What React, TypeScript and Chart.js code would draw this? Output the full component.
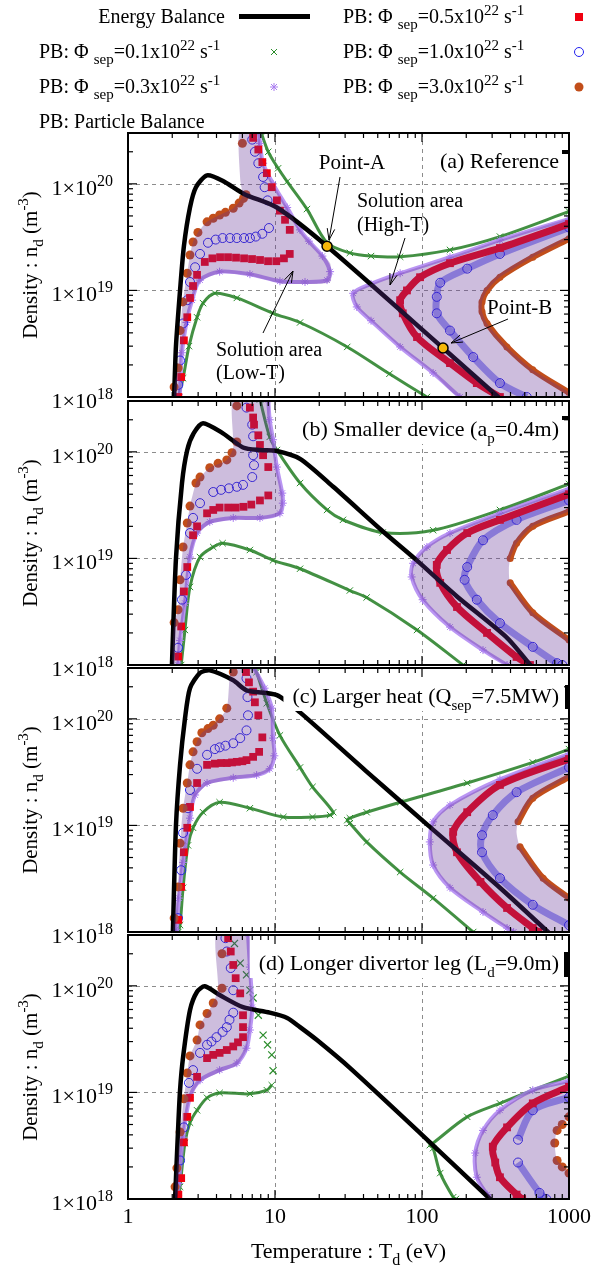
import React, { useEffect, useRef } from 'react';
import { Chart, registerables } from 'chart.js';

Chart.register(...registerables);

// ---------------- layout (pixels) ----------------
const W = 608;
const H = 1279;
const PLOT_LEFT = 128;
const PLOT_RIGHT = 569;
const PANEL_TOPS = [133, 401, 668, 935];
const PANEL_BOTTOMS = [397, 665, 932, 1199];

// ---------------- axes ----------------
const T_MIN = 1;
const T_MAX = 1000;
const N_MIN = 1e18;
const N_MAX = 3e20;
const X_TICK_VALUES = [1, 10, 100, 1000];
const X_TICK_LABELS = ['1', '10', '100', '1000'];
const Y_TICK_EXPONENTS = [18, 19, 20];
const PHI_VALUES = ['0.1', '0.3', '0.5', '1.0', '3.0'];

// ---------------- colours ----------------
const C_G = '#2a8c2a';
const C_G_BAND = 'rgba(34,125,34,0.85)';
const C_P = '#a97cf0';
const C_P_BAND = 'rgba(169,124,240,0.8)';
const C_R = '#f00010';
const C_B = '#2222ee';
const C_B_BAND = 'rgba(34,34,238,0.45)';
const C_O = '#c24e1a';
const C_FILL = 'rgba(100,50,150,0.32)';
const C_PT = '#f5b70a';

// ================= Panel (a) Reference =================
const A_EB = [[2.06,1e18],[2.12,3e18],[2.26,1e19],[2.4,2.6e19],[2.64,6e19],[2.9,9.3e19],[3.45,1.2e20],[4.4,1.07e20],[6.2,8.0e19],[10.3,6.0e19],[22.6,2.6e19],[139,2.88e18],[330,1e18]];
const A_G_LOW = [[2.2,1e18],[2.37,1.5e18],[2.6,3e18],[2.95,5.6e18],[3.24,7.6e18],[3.9,9.4e18],[5.5,8.5e18],[9.7,6.1e18],[14.8,5e18],[31,2.95e18],[60,1.65e18],[108,1e18]];
const A_G_HIGH = [[8.0,3.1e20],[9.0,2.0e20],[10.5,1.4e20],[12.1,1.05e20],[16.5,5.8e19],[22.6,2.8e19],[32.3,2.25e19],[45,2.1e19],[71,2.07e19],[155,2.4e19],[339,3.2e19],[1000,5.5e19]];
const A_P_LOW = [[2.25,1e18],[2.33,2.6e18],[2.5,5e18],[2.73,8.1e18],[3.09,1.25e19],[4.2,1.5e19],[6.75,1.42e19],[10.8,1.22e19],[16,1.2e19],[22.6,1.25e19],[23.7,1.5e19],[21,2.1e19],[17,2.9e19],[14.8,3.7e19],[12.1,6e19],[9.7,1.0e20],[8.3,1.56e20],[7.9,2.4e20],[7.8,3.1e20]];
const A_P_HIGH = [[1000,4.7e19],[339,2.97e19],[155,2.05e19],[71,1.45e19],[45,1.15e19],[34,9.4e18],[36,7e18],[45,5.2e18],[71,2.95e18],[119,1.68e18],[181,1e18]];
const A_R_LOW = [[2.2,1e18],[2.3,1.54e18],[2.4,3.4e18],[2.53,5.6e18],[2.64,8.5e18],[2.77,1.1e19],[2.95,1.4e19],[3.33,1.85e19],[3.75,2.0e19],[4.23,2.05e19],[4.79,2.05e19],[5.43,2.03e19],[6.16,2.0e19],[6.98,1.97e19],[7.91,1.93e19],[8.97,1.88e19],[10.2,1.88e19],[11.5,2.0e19],[12.6,2.2e19]];
const A_R_UP = [[12.6,3.7e19],[11.7,4.6e19],[10.8,5.6e19],[10.3,7.0e19],[9.5,9.3e19],[8.8,1.26e20],[8.2,1.6e20],[7.7,2.1e20],[7.1,2.7e20]];
const A_R_HIGH = [[1000,4.2e19],[339,2.5e19],[155,1.8e19],[97,1.33e19],[79,1.0e19],[71,8.1e18],[74,6.1e18],[92.5,3.65e18],[155,2.08e18],[236,1.35e18],[339,1e18]];
const A_B_LOW = [[2.2,1.3e18],[2.26,2.2e18],[2.37,4.9e18],[2.53,8.1e18],[2.64,1.2e19],[2.86,1.65e19],[3.09,2.2e19],[3.5,2.8e19],[3.95,3.0e19],[4.4,3.1e19],[4.94,3.1e19],[5.5,3.1e19],[6.16,3.1e19],[6.75,3.1e19],[7.4,3.2e19],[8.2,3.4e19],[9.1,3.85e19]];
const A_B_UP = [[8.9,7.0e19],[8.5,9.3e19],[8.3,1.16e20],[7.7,1.56e20],[7.3,2.0e20],[7.0,2.6e20]];
const A_B_HIGH = [[1000,3.9e19],[339,2.2e19],[203,1.6e19],[133,1.18e19],[126,8.7e18],[126,6.1e18],[155,4.2e18],[223,2.37e18],[339,1.35e18],[516,1e18]];
const A_O_LOW = [[2.06,1.24e18],[2.19,1.87e18],[2.26,4.2e18],[2.36,7.8e18],[2.53,1.45e19],[2.64,2.15e19],[2.77,2.85e19],[2.99,3.5e19],[3.45,4.4e19],[3.8,4.75e19],[4.2,5.1e19],[4.6,5.4e19],[5.2,5.9e19],[5.7,6.6e19],[6.1,7.3e19],[6.35,7.9e19]];
const A_O_UP = [[6.0,2.4e20]];
const A_O_HIGH = [[1000,3.05e19],[567,2.05e19],[339,1.33e19],[277,1e19],[256,7.8e18],[256,6.3e18],[277,4.9e18],[378,2.95e18],[567,1.8e18],[1000,1.1e18]];
const A_FILL_LOW = [[2.06,1e18],[2.06,1.24e18],[2.19,1.87e18],[2.26,4.2e18],[2.36,7.8e18],[2.53,1.45e19],[2.64,2.15e19],[2.77,2.85e19],[2.99,3.5e19],[3.45,4.4e19],[4.2,5.1e19],[5.2,5.9e19],[6.0,7.6e19],[5.8,1.1e20],[5.75,3.2e20],[7.9,3.2e20],[7.9,2.4e20],[8.3,1.56e20],[9.7,1.0e20],[12.1,6e19],[14.8,3.7e19],[19,2.5e19],[23.7,1.8e19],[23.7,1.2e19],[16,1.15e19],[10.8,1.17e19],[6.75,1.37e19],[4.2,1.45e19],[3.09,1.2e19],[2.73,7.8e18],[2.5,4.8e18],[2.33,2.5e18],[2.25,1e18]];
const A_FILL_HIGH = [[1000,4.75e19],[339,2.97e19],[155,2.05e19],[71,1.45e19],[45,1.15e19],[34,9.4e18],[36,7e18],[45,5.2e18],[71,2.95e18],[119,1.68e18],[181,1e18],[1000,1e18],[1000,1.1e18],[567,1.8e18],[378,2.95e18],[277,4.9e18],[256,6.3e18],[256,7.8e18],[277,1e19],[339,1.33e19],[567,2.05e19],[1000,3.05e19]];
const A_MARKS = [[22.6,2.6e19],[139,2.88e18]];

// ================= Panel (b) Smaller device =================
const B_EB = [[1.99,1e18],[2.12,1e19],[2.33,5.1e19],[2.53,1.04e20],[2.8,1.5e20],[3.24,1.86e20],[4.4,1.5e20],[6.06,1.1e20],[7.9,1.04e20],[10.3,1.02e20],[14.8,8.6e19],[24.9,4.7e19],[54,1.8e19],[89,1.0e19],[173,4.4e18],[379,1.8e18],[545,1e18]];
const B_G_LOW = [[2.3,1e18],[2.44,2.13e18],[2.64,5.4e18],[3.09,1.03e19],[3.8,1.28e19],[4.4,1.39e19],[6.75,1.2e19],[9.7,9.6e18],[14.8,8.0e18],[32.3,5.0e18],[42,4.3e18],[92.5,2.13e18],[190,1e18]];
const B_G_HIGH = [[7.9,3.1e20],[9.2,1.38e20],[10.3,1.04e20],[14.8,5.1e19],[22.6,2.85e19],[29,2.3e19],[54,1.75e19],[119,1.84e19],[339,2.85e19],[1000,5.0e19]];
const B_P_LOW = [[2.2,1e18],[2.26,1.7e18],[2.44,3.8e18],[2.64,1.03e19],[2.95,1.73e19],[3.6,2.2e19],[5.2,2.4e19],[7.9,2.4e19],[10.8,2.65e19],[11.3,3.3e19],[11.2,4.1e19],[10.3,7.2e19],[9.7,1.3e20],[9.2,2.0e20],[9.0,3.1e20]];
const B_P_HIGH = [[1000,4.5e19],[339,2.65e19],[155,1.73e19],[108,1.28e19],[87,9.0e18],[85,6.7e18],[101,4.1e18],[155,2.27e18],[260,1.38e18],[379,1e18]];
const B_R_LOW = [[2.2,1.2e18],[2.3,2.3e18],[2.4,4.9e18],[2.53,8.3e18],[2.77,1.65e19],[2.95,2.0e19],[3.45,2.65e19],[3.8,2.85e19],[4.2,3.0e19],[4.8,3.0e19],[5.4,3.0e19],[6.1,3.05e19],[6.9,3.2e19],[7.9,3.5e19],[9.0,3.9e19]];
const B_R_UP = [[9.0,7.2e19],[8.3,9.3e19],[7.9,1.16e20],[7.7,1.43e20],[7.2,1.8e20],[7.1,2.1e20],[6.75,2.6e20]];
const B_R_HIGH = [[1000,4.0e19],[339,2.3e19],[203,1.73e19],[148,1.2e19],[126,8.7e18],[133,5.9e18],[173,3.5e18],[277,2e18],[440,1.19e18],[543,1e18]];
const B_B_LOW = [[2.19,1.45e18],[2.33,4.1e18],[2.48,7e18],[2.64,1.73e19],[2.77,2.4e19],[3.09,3.3e19],[3.8,4.2e19],[4.3,4.4e19],[4.86,4.55e19],[5.5,4.7e19],[6.06,4.9e19],[7.0,5.8e19]];
const B_B_UP = [[7.2,7.5e19],[7.1,9.3e19],[7.1,1.4e20],[7.0,1.8e20],[6.4,2.6e20]];
const B_B_HIGH = [[1000,3.5e19],[440,2.3e19],[260,1.48e19],[203,8.3e18],[195,6.3e18],[236,4.1e18],[339,2.47e18],[567,1.48e18],[830,1.04e18],[900,1e18]];
const B_O_LOW = [[2.06,2.5e18],[2.19,3.3e18],[2.26,6.3e18],[2.37,1.28e19],[2.53,2.15e19],[2.64,3.1e19],[2.9,5.1e19],[3.09,5.8e19],[3.6,7.1e19],[4.1,7.8e19],[4.7,8.4e19],[5.1,9.8e19],[5.5,1.24e20]];
const B_O_UP = [[5.5,2.7e20]];
const B_O_HIGH = [[1000,2.75e19],[567,2.0e19],[440,1.39e19],[398,1.0e19]];
const B_O_HIGH2 = [[398,5.9e18],[567,3.1e18],[1000,1.72e18]];
const B_FILL_LOW = [[2.0,1e18],[2.06,2.5e18],[2.19,3.3e18],[2.26,6.3e18],[2.37,1.28e19],[2.53,2.15e19],[2.64,3.1e19],[2.9,5.1e19],[3.09,5.8e19],[3.6,7.1e19],[4.7,8.4e19],[5.2,1.1e20],[5.2,3.2e20],[9.0,3.2e20],[9.2,2.0e20],[9.7,1.3e20],[10.3,7.2e19],[11.2,4.1e19],[11.3,3.0e19],[10.8,2.55e19],[7.9,2.3e19],[5.2,2.3e19],[3.6,2.1e19],[2.95,1.65e19],[2.64,9.8e18],[2.44,3.6e18],[2.26,1.6e18],[2.2,1e18]];
const B_FILL_HIGH = [[1000,4.5e19],[339,2.65e19],[155,1.73e19],[108,1.28e19],[87,9.0e18],[85,6.7e18],[101,4.1e18],[155,2.27e18],[260,1.38e18],[379,1e18],[1000,1e18],[1000,1.72e18],[567,3.1e18],[398,5.9e18],[390,8e18],[398,1.0e19],[440,1.39e19],[567,2.0e19],[1000,2.75e19]];

// ================= Panel (c) Larger heat =================
const C_EB = [[2.02,1e18],[2.12,1e19],[2.26,3.7e19],[2.44,1.0e20],[2.64,1.94e20],[3.09,2.7e20],[3.6,2.85e20],[5.2,2.3e20],[6.4,1.85e20],[10.3,1.67e20],[14.8,1.15e20],[42,3.2e19],[110,1.0e19],[339,2.6e18],[720,1e18]];
const C_G_LOW = [[2.2,1e18],[2.26,1.16e18],[2.37,2.6e18],[2.56,6.5e18],[2.77,9.5e18],[3.24,1.33e19],[4.2,1.65e19],[6.75,1.45e19],[11.4,1.2e19],[18,1.2e19],[23.7,1.25e19],[24.9,1.33e19],[18,2.3e19],[14.8,3.5e19],[10.8,7e19],[8.8,1.4e20],[7.5,2.75e20],[7.3,3.1e20]];
const C_G_HIGH = [[1000,5.2e19],[567,3.9e19],[203,2.5e19],[71,1.65e19],[42,1.33e19],[32.3,1.17e19],[31,1.12e19],[32.3,1.05e19],[42,7e18],[71,3.65e18],[119,2.08e18],[223,1e18]];
const C_P_LOW = [[2.15,1e18],[2.22,2.08e18],[2.37,4.5e18],[2.64,1.17e19],[2.86,1.93e19],[3.45,2.5e19],[5.2,2.8e19],[7.5,2.97e19],[9.2,3.4e19],[9.9,4.5e19],[9.7,6.6e19],[9.5,1.26e20],[8.5,1.94e20],[7.1,3.1e20]];
const C_P_HIGH = [[1000,4.7e19],[339,2.7e19],[155,1.55e19],[119,1.08e19],[113,7e18],[119,4.25e18],[155,2.6e18],[260,1.54e18],[379,1.09e18],[420,1e18]];
const C_R_LOW = [[2.2,1.3e18],[2.3,2.65e18],[2.4,5.6e18],[2.53,9.5e18],[2.64,1.49e19],[2.95,2.5e19],[3.45,3.7e19],[3.9,3.8e19],[4.3,3.85e19],[4.7,3.85e19],[5.1,3.9e19],[5.5,3.95e19],[6.0,4.0e19],[6.4,4.1e19],[7.1,4.4e19],[7.8,4.9e19]];
const C_R_UP = [[8.2,6.7e19],[7.7,1.08e20],[7.3,1.43e20],[7.1,1.8e20],[6.65,2.2e20],[6.35,2.75e20]];
const C_R_HIGH = [[1000,4.2e19],[339,2.4e19],[203,1.33e19],[163,8.7e18],[173,5.6e18],[250,2.95e18],[379,1.68e18],[567,1.09e18],[620,1e18]];
const C_B_LOW = [[2.19,1.35e18],[2.3,3.8e18],[2.37,8.5e18],[2.56,1.45e19],[2.64,2.15e19],[2.95,3.4e19],[3.45,4.6e19],[3.9,5.2e19],[4.2,5.4e19],[4.6,5.6e19],[5.2,5.9e19],[5.8,6.6e19],[6.4,7.8e19]];
const C_B_UP = [[6.55,1.08e20],[6.5,1.6e20],[6.4,2.4e20]];
const C_B_HIGH = [[1000,3.5e19],[440,2.05e19],[303,1.25e19],[256,8.1e18],[256,5.6e18],[339,3.2e18],[567,1.8e18],[1000,1.16e18]];
const C_O_LOW = [[2.06,1.35e18],[2.19,2.65e18],[2.26,6.8e18],[2.37,1.45e19],[2.53,2.5e19],[2.64,3.7e19],[2.77,4.9e19],[2.95,6.1e19],[3.18,7.4e19],[3.5,8.1e19],[3.8,8.7e19],[4.2,1.0e20],[4.7,1.26e20],[5.2,2.75e20]];
const C_O_HIGH = [[1000,2.85e19],[567,1.8e19],[450,1.08e19]];
const C_O_HIGH2 = [[464,6.3e18],[667,3.2e18],[1000,2.08e18]];
const C_FILL_LOW = [[2.02,1e18],[2.06,1.35e18],[2.19,2.65e18],[2.26,6.8e18],[2.37,1.45e19],[2.53,2.5e19],[2.64,3.7e19],[2.77,4.9e19],[2.95,6.1e19],[3.18,7.4e19],[3.8,8.7e19],[4.7,1.26e20],[5.1,3.2e20],[7.1,3.2e20],[8.5,1.94e20],[9.5,1.26e20],[9.7,6.6e19],[9.9,4.5e19],[9.2,3.3e19],[7.5,2.9e19],[5.2,2.7e19],[3.45,2.4e19],[2.86,1.85e19],[2.64,1.12e19],[2.37,4.3e18],[2.22,2e18],[2.15,1e18]];
const C_FILL_HIGH = [[1000,4.7e19],[339,2.7e19],[155,1.55e19],[119,1.08e19],[113,7e18],[119,4.25e18],[155,2.6e18],[260,1.54e18],[379,1.09e18],[420,1e18],[1000,1e18],[1000,2.08e18],[667,3.2e18],[464,6.3e18],[440,8.5e18],[450,1.08e19],[567,1.8e19],[1000,2.85e19]];

// ================= Panel (d) Longer divertor leg =================
const D_EB = [[2.09,1e18],[2.19,4.4e18],[2.26,1.05e19],[2.37,2.15e19],[2.64,5.9e19],[2.95,8.8e19],[3.33,9.9e19],[4.2,8.2e19],[6.06,6.3e19],[9.2,5.6e19],[12.1,5.0e19],[14.8,4.1e19],[19.3,3.1e19],[32.3,1.7e19],[100,4.0e18],[290,1e18]];
const D_G_LOW = [[2.2,1e18],[2.26,1.3e18],[2.44,3.35e18],[2.64,5.2e18],[2.95,6.8e18],[3.45,8.9e18],[4.2,9.9e18],[6.75,9.7e18],[8.8,1.05e19],[9.5,1.17e19]];
const D_G_UP = [[9.7,1.6e19],[9.5,2.25e19],[8.9,2.8e19],[8.3,3.45e19],[7.7,5.3e19],[7.1,7.7e19],[6.75,9.1e19],[6.4,1.27e20],[5.8,1.63e20],[5.3,2.5e20]];
const D_G_HIGH = [[1000,1.42e19],[567,1.05e19],[339,7.9e18],[203,5.9e18],[119,3.35e18],[113,3.2e18],[119,3.0e18],[133,1.75e18],[163,1.04e18],[170,1e18]];
const D_P_LOW = [[2.15,1e18],[2.22,1.4e18],[2.37,3.8e18],[2.64,9e18],[3.09,1.3e19],[4.2,1.62e19],[5.5,1.88e19],[6.4,2.6e19],[6.75,3.85e19],[7.0,6.3e19],[6.75,1.5e20],[6.55,3.1e20]];
const D_P_HIGH = [[1000,1.28e19],[567,1.05e19],[339,6.8e18],[260,4.4e18],[230,2.7e18],[236,1.6e18],[277,1.1e18],[290,1e18]];
const D_R_LOW = [[2.2,1.1e18],[2.3,1.57e18],[2.4,3.4e18],[2.53,5.9e18],[2.64,8.9e18],[2.95,1.4e19],[3.45,2.1e19],[3.8,2.25e19],[4.2,2.35e19],[4.7,2.5e19],[5.2,2.7e19],[5.6,2.95e19],[6.06,3.3e19]];
const D_R_UP = [[6.06,4.1e19],[6.06,5.3e19],[5.8,8.5e19],[5.4,1.18e20],[5.2,1.57e20],[5.0,2.1e20],[4.8,2.8e20]];
const D_R_HIGH = [[1000,1.13e19],[567,7.9e18],[379,4.7e18],[303,3.1e18],[315,2.2e18],[339,1.6e18],[440,1.1e18],[480,1e18]];
const D_B_LOW = [[2.26,2.3e18],[2.4,4.7e18],[2.6,1.23e19],[2.77,1.62e19],[3.09,2.35e19],[3.45,2.8e19],[3.7,3.0e19],[4.0,3.3e19],[4.4,3.7e19],[4.7,4.1e19],[4.9,4.8e19]];
const D_B_UP = [[5.2,5.6e19],[5.2,9.1e19],[5.0,1.47e20],[4.7,2.1e20],[4.6,2.8e20]];
const D_B_HIGH = [[1000,9e18],[567,6.8e18],[450,3.6e18]];
const D_B_HIGH2 = [[450,2.2e18],[630,1.14e18],[700,1e18]];
const D_O_LOW = [[2.09,1.3e18],[2.15,1.95e18],[2.26,4.25e18],[2.4,8.7e18],[2.53,1.52e19],[2.64,2.2e19],[2.95,3.1e19],[3.09,4.3e19],[3.45,5.5e19],[3.8,6.9e19],[4.36,9.5e19],[4.36,2.0e20]];
const D_O_HIGH = [[1000,5.9e18],[900,5.0e18],[830,4.4e18],[800,3.35e18],[830,2.3e18],[900,2.0e18],[1000,1.75e18]];
const D_FILL_LOW = [[2.09,1e18],[2.09,1.3e18],[2.15,1.95e18],[2.26,4.25e18],[2.4,8.7e18],[2.53,1.52e19],[2.64,2.2e19],[2.95,3.1e19],[3.09,4.3e19],[3.45,5.5e19],[3.8,6.9e19],[4.1,9.5e19],[4.0,3.2e20],[6.55,3.2e20],[6.75,1.5e20],[7.0,6.3e19],[6.75,3.85e19],[6.4,2.5e19],[5.5,1.8e19],[4.2,1.55e19],[3.09,1.25e19],[2.64,8.6e18],[2.37,3.6e18],[2.22,1.35e18],[2.15,1e18]];
const D_FILL_HIGH = [[1000,1.28e19],[567,1.05e19],[339,6.8e18],[260,4.4e18],[230,2.7e18],[236,1.6e18],[277,1.1e18],[290,1e18],[1000,1e18],[1000,1.75e18],[830,2.3e18],[800,3.35e18],[830,4.4e18],[1000,5.9e18]];

// ---------------- panel configuration ----------------
const PANELS = [
  { eb: A_EB, gDense: [A_G_LOW, A_G_HIGH], gSparse: [], pDense: [A_P_LOW, A_P_HIGH], rSparse: [A_R_LOW, A_R_UP], rDense: [A_R_HIGH], bSparse: [A_B_LOW, A_B_UP], bDense: [A_B_HIGH], oSparse: [A_O_LOW, A_O_UP], oDense: [A_O_HIGH], fills: [A_FILL_LOW, A_FILL_HIGH], marks: A_MARKS },
  { eb: B_EB, gDense: [B_G_LOW, B_G_HIGH], gSparse: [], pDense: [B_P_LOW, B_P_HIGH], rSparse: [B_R_LOW, B_R_UP], rDense: [B_R_HIGH], bSparse: [B_B_LOW, B_B_UP], bDense: [B_B_HIGH], oSparse: [B_O_LOW, B_O_UP], oDense: [B_O_HIGH, B_O_HIGH2], fills: [B_FILL_LOW, B_FILL_HIGH], marks: [] },
  { eb: C_EB, gDense: [C_G_LOW, C_G_HIGH], gSparse: [], pDense: [C_P_LOW, C_P_HIGH], rSparse: [C_R_LOW, C_R_UP], rDense: [C_R_HIGH], bSparse: [C_B_LOW, C_B_UP], bDense: [C_B_HIGH], oSparse: [C_O_LOW], oDense: [C_O_HIGH, C_O_HIGH2], fills: [C_FILL_LOW, C_FILL_HIGH], marks: [] },
  { eb: D_EB, gDense: [D_G_LOW, D_G_HIGH], gSparse: [D_G_UP], pDense: [D_P_LOW, D_P_HIGH], rSparse: [D_R_LOW, D_R_UP], rDense: [D_R_HIGH], bSparse: [D_B_LOW, D_B_UP], bDense: [D_B_HIGH, D_B_HIGH2], oSparse: [D_O_LOW, D_O_HIGH], oDense: [], fills: [D_FILL_LOW, D_FILL_HIGH], marks: [] },
];

const TITLES = [
  [{ t: '(a) Reference' }],
  [{ t: '(b) Smaller device (a' }, { t: 'p', k: 'sub' }, { t: '=0.4m)' }],
  [{ t: '(c) Larger heat (Q' }, { t: 'sep', k: 'sub' }, { t: '=7.5MW)' }],
  [{ t: '(d) Longer divertor leg (L' }, { t: 'd', k: 'sub' }, { t: '=9.0m)' }],
];
const KEY_MARKS = [[562, 17, 7, 4], [562, 15, 7, 4], [565, 17, 4, 24], [564, 17, 5, 25]];

// ---------------- drawing helpers ----------------
const SERIF = '"Liberation Serif", "Times New Roman", Times, serif';
const fnt = (px: number) => `${px}px ${SERIF}`;

function richWidth(ctx: any, segs: any[], size: number, small: number) {
  let w = 0;
  for (const s of segs) { ctx.font = fnt(s.k ? small : size); w += ctx.measureText(s.t).width; }
  return w;
}
function drawRich(ctx: any, segs: any[], x: number, y: number, size: number, small: number, align = 'left') {
  const w = richWidth(ctx, segs, size, small);
  let cx = align === 'right' ? x - w : align === 'center' ? x - w / 2 : x;
  ctx.textAlign = 'left';
  ctx.textBaseline = 'alphabetic';
  for (const s of segs) {
    ctx.font = fnt(s.k ? small : size);
    const dy = s.k === 'sub' ? Math.round(size * 0.3) : s.k === 'sup' ? -Math.round(size * 0.42) : 0;
    ctx.fillText(s.t, cx, y + dy);
    cx += ctx.measureText(s.t).width;
  }
}
function seg(ctx: any, x1: number, y1: number, x2: number, y2: number) {
  ctx.beginPath(); ctx.moveTo(x1, y1); ctx.lineTo(x2, y2); ctx.stroke();
}
function arrow(ctx: any, x1: number, y1: number, x2: number, y2: number) {
  const ang = Math.atan2(y2 - y1, x2 - x1);
  const L = 12, sp = 0.32;
  ctx.beginPath();
  ctx.moveTo(x1, y1); ctx.lineTo(x2, y2);
  ctx.moveTo(x2 - L * Math.cos(ang - sp), y2 - L * Math.sin(ang - sp));
  ctx.lineTo(x2, y2);
  ctx.lineTo(x2 - L * Math.cos(ang + sp), y2 - L * Math.sin(ang + sp));
  ctx.stroke();
}
const phiSegs = (v: string) => [{ t: 'PB: \u03A6 ' }, { t: 'sep', k: 'sub' }, { t: `=${v}x10` }, { t: '22', k: 'sup' }, { t: ' s' }, { t: '-1', k: 'sup' }];

function drawLegend(ctx: any) {
  const rows = [23, 58, 93, 128];
  ctx.fillStyle = '#000';
  drawRich(ctx, [{ t: 'Energy Balance' }], 225, rows[0], 20, 15, 'right');
  ctx.fillRect(239, rows[0] - 9, 71, 5);
  drawRich(ctx, phiSegs(PHI_VALUES[0]), 39, rows[1], 20, 15);
  drawRich(ctx, phiSegs(PHI_VALUES[1]), 39, rows[2], 20, 15);
  drawRich(ctx, phiSegs(PHI_VALUES[2]), 343, rows[0], 20, 15);
  drawRich(ctx, phiSegs(PHI_VALUES[3]), 343, rows[1], 20, 15);
  drawRich(ctx, phiSegs(PHI_VALUES[4]), 343, rows[2], 20, 15);
  drawRich(ctx, [{ t: 'PB: Particle Balance' }], 39, rows[3], 20, 15);
  const cy = rows.map((r) => r - 6);
  ctx.fillStyle = C_R; ctx.fillRect(575, cy[0] - 4, 8, 8);
  ctx.strokeStyle = C_G; ctx.lineWidth = 1;
  seg(ctx, 271, cy[1] - 3, 277, cy[1] + 3); seg(ctx, 271, cy[1] + 3, 277, cy[1] - 3);
  ctx.strokeStyle = C_B; ctx.beginPath(); ctx.arc(579, cy[1], 4.5, 0, Math.PI * 2); ctx.stroke();
  ctx.strokeStyle = C_P;
  seg(ctx, 271, cy[2] - 3, 277, cy[2] + 3); seg(ctx, 271, cy[2] + 3, 277, cy[2] - 3);
  seg(ctx, 274, cy[2] - 4, 274, cy[2] + 4); seg(ctx, 270, cy[2], 278, cy[2]);
  ctx.fillStyle = C_O; ctx.beginPath(); ctx.arc(579, cy[2], 4.5, 0, Math.PI * 2); ctx.fill();
}

function drawAnnotationsA(ctx: any) {
  ctx.fillStyle = '#000'; ctx.strokeStyle = '#000'; ctx.lineWidth = 1;
  drawRich(ctx, [{ t: 'Point-A' }], 352, 169, 21, 15, 'center');
  arrow(ctx, 340, 177, 329, 240);
  drawRich(ctx, [{ t: 'Solution area' }], 357, 207, 20, 15);
  drawRich(ctx, [{ t: '(High-T)' }], 357, 231, 20, 15);
  arrow(ctx, 405, 238, 390, 285);
  drawRich(ctx, [{ t: 'Point-B' }], 487, 314, 21, 15);
  arrow(ctx, 508, 319, 451, 343);
  drawRich(ctx, [{ t: 'Solution area' }], 216, 356, 20, 15);
  drawRich(ctx, [{ t: '(Low-T)' }], 216, 379, 20, 15);
  arrow(ctx, 263, 333, 293, 271);
}

function makePlugin(i: number) {
  return {
    id: 'panelDeco' + i,
    beforeDatasetsDraw(chart: any) {
      const { ctx, chartArea: a } = chart;
      const xs = chart.scales.x, ys = chart.scales.y;
      ctx.save();
      ctx.beginPath(); ctx.rect(a.left, a.top, a.right - a.left, a.bottom - a.top); ctx.clip();
      ctx.strokeStyle = '#8c8c8c'; ctx.lineWidth = 1; ctx.setLineDash([4, 4]);
      for (const v of [10, 100]) { const px = Math.round(xs.getPixelForValue(v)) + 0.5; seg(ctx, px, a.top, px, a.bottom); }
      for (const e of [19, 20]) { const py = Math.round(ys.getPixelForValue(Math.pow(10, e))) + 0.5; seg(ctx, a.left, py, a.right, py); }
      ctx.restore();
    },
    afterDatasetsDraw(chart: any) {
      const { ctx, chartArea: a } = chart;
      const xs = chart.scales.x, ys = chart.scales.y;
      ctx.save();
      ctx.setLineDash([]);
      const tw = richWidth(ctx, TITLES[i], 22, 15);
      const tx = 559 - tw;
      ctx.fillStyle = '#fff';
      ctx.fillRect(tx - 9, a.top + 1, a.right - (tx - 9) - 1, 42);
      ctx.fillStyle = '#000';
      drawRich(ctx, TITLES[i], tx, a.top + 35, 22, 15);
      const km = KEY_MARKS[i];
      ctx.fillRect(km[0], a.top + km[1], km[2], km[3]);
      if (i === 0) drawAnnotationsA(ctx);
      ctx.strokeStyle = '#000'; ctx.lineWidth = 2;
      ctx.strokeRect(a.left, a.top, a.right - a.left, a.bottom - a.top);
      ctx.lineWidth = 1.2;
      for (let k = 0; k <= 3; k++) {
        const major = Math.pow(10, k);
        const px = xs.getPixelForValue(major);
        seg(ctx, px, a.bottom, px, a.bottom - 9); seg(ctx, px, a.top, px, a.top + 9);
        if (k < 3) for (let m = 2; m <= 9; m++) {
          const q = xs.getPixelForValue(m * major);
          seg(ctx, q, a.bottom, q, a.bottom - 5); seg(ctx, q, a.top, q, a.top + 5);
        }
      }
      for (const e of Y_TICK_EXPONENTS) {
        const major = Math.pow(10, e);
        const py = ys.getPixelForValue(major);
        seg(ctx, a.left, py, a.left + 9, py); seg(ctx, a.right, py, a.right - 9, py);
        for (let m = 2; m <= 9; m++) {
          const v = m * major;
          if (v >= N_MAX) break;
          const q = ys.getPixelForValue(v);
          seg(ctx, a.left, q, a.left + 5, q); seg(ctx, a.right, q, a.right - 5, q);
        }
        ctx.fillStyle = '#000';
        drawRich(ctx, [{ t: '1\u00D710' }, { t: String(e), k: 'sup' }], 113, py + 11, 22, 16, 'right');
      }
      ctx.save();
      ctx.translate(30, (a.top + a.bottom) / 2);
      ctx.rotate(-Math.PI / 2);
      drawRich(ctx, [{ t: 'Density : n' }, { t: 'd', k: 'sub' }, { t: ' (m' }, { t: '-3', k: 'sup' }, { t: ')' }], 0, 7, 21, 15, 'center');
      ctx.restore();
      if (i === 0) drawLegend(ctx);
      if (i === 3) {
        ctx.fillStyle = '#000';
        X_TICK_VALUES.forEach((v, j) => {
          drawRich(ctx, [{ t: X_TICK_LABELS[j] }], xs.getPixelForValue(v), 1223, 22, 16, 'center');
        });
        drawRich(ctx, [{ t: 'Temperature : T' }, { t: 'd', k: 'sub' }, { t: ' (eV)' }], (a.left + a.right) / 2, 1258, 22, 16, 'center');
      }
      ctx.restore();
    },
  };
}

const pts = (arr: number[][]) => arr.map(([x, y]) => ({ x, y }));

function buildDatasets(p: any) {
  const ds: any[] = [];
  const base = { clip: 0, tension: 0.3 };
  for (const d of p.gDense) ds.push({ ...base, data: pts(d), showLine: true, borderColor: C_G_BAND, borderWidth: 3, pointStyle: 'crossRot', pointRadius: 4.5, pointBorderColor: C_G, pointBorderWidth: 1, order: 7 });
  for (const d of p.gSparse) ds.push({ ...base, data: pts(d), showLine: false, pointStyle: 'crossRot', pointRadius: 5, pointBorderColor: C_G, pointBorderWidth: 1.2, order: 7 });
  for (const d of p.pDense) ds.push({ ...base, data: pts(d), showLine: true, borderColor: C_P_BAND, borderWidth: 4, pointStyle: 'star', pointRadius: 4, pointBorderColor: C_P, pointBorderWidth: 1, order: 6 });
  for (const d of p.bSparse) ds.push({ ...base, data: pts(d), showLine: false, pointStyle: 'circle', pointRadius: 4.5, pointBackgroundColor: 'rgba(0,0,0,0)', pointBorderColor: C_B, pointBorderWidth: 1, order: 5 });
  for (const d of p.bDense) ds.push({ ...base, data: pts(d), showLine: true, borderColor: C_B_BAND, borderWidth: 7, pointStyle: 'circle', pointRadius: 4.5, pointBackgroundColor: 'rgba(0,0,0,0)', pointBorderColor: C_B, pointBorderWidth: 1, order: 5 });
  for (const d of p.rSparse) ds.push({ ...base, data: pts(d), showLine: false, pointStyle: 'rect', pointRadius: 5.5, pointBackgroundColor: C_R, pointBorderColor: C_R, pointBorderWidth: 0, order: 4 });
  for (const d of p.rDense) ds.push({ ...base, data: pts(d), showLine: true, borderColor: C_R, borderWidth: 7, pointStyle: 'rect', pointRadius: 5.5, pointBackgroundColor: C_R, pointBorderColor: C_R, pointBorderWidth: 0, order: 4 });
  for (const d of p.oSparse) ds.push({ ...base, data: pts(d), showLine: false, pointStyle: 'circle', pointRadius: 4.5, pointBackgroundColor: C_O, pointBorderColor: C_O, pointBorderWidth: 0, order: 3 });
  for (const d of p.oDense) ds.push({ ...base, data: pts(d), showLine: true, borderColor: C_O, borderWidth: 6, pointStyle: 'circle', pointRadius: 3.5, pointBackgroundColor: C_O, pointBorderColor: C_O, pointBorderWidth: 0, order: 3 });
  ds.push({ ...base, data: pts(p.eb), showLine: true, borderColor: '#000', borderWidth: 4.5, pointRadius: 0, tension: 0.25, borderCapStyle: 'round', borderJoinStyle: 'round', order: 2 });
  for (const f of p.fills) ds.push({ ...base, data: pts(f), showLine: true, fill: 'shape', backgroundColor: C_FILL, borderColor: 'rgba(0,0,0,0)', borderWidth: 0, pointRadius: 0, tension: 0.2, order: 1 });
  if (p.marks.length) ds.push({ ...base, data: pts(p.marks), showLine: false, pointStyle: 'circle', pointRadius: 5, pointBackgroundColor: C_PT, pointBorderColor: '#000', pointBorderWidth: 1.5, order: 0 });
  return ds;
}

export default function App() {
  const refs = useRef<(HTMLCanvasElement | null)[]>([]);
  useEffect(() => {
    document.body.style.margin = '0';
    const charts = PANELS.map((p, i) => new Chart(refs.current[i] as HTMLCanvasElement, {
      type: 'scatter',
      data: { datasets: buildDatasets(p) },
      options: {
        responsive: false,
        animation: false,
        events: [],
        layout: { padding: { left: PLOT_LEFT, right: W - PLOT_RIGHT, top: PANEL_TOPS[i], bottom: H - PANEL_BOTTOMS[i] } },
        plugins: { legend: { display: false }, tooltip: { enabled: false } },
        scales: {
          x: { type: 'logarithmic', min: T_MIN, max: T_MAX, display: false },
          y: { type: 'logarithmic', min: N_MIN, max: N_MAX, display: false },
        },
      } as any,
      plugins: [makePlugin(i)],
    }));
    return () => charts.forEach((c) => c.destroy());
  }, []);
  return (
    <div style={{ position: 'absolute', left: 0, top: 0, width: W, height: H, background: '#fff' }}>
      {PANELS.map((_, i) => (
        <canvas key={i} ref={(el) => { refs.current[i] = el; }} width={W} height={H} style={{ position: 'absolute', left: 0, top: 0 }} />
      ))}
    </div>
  );
}
